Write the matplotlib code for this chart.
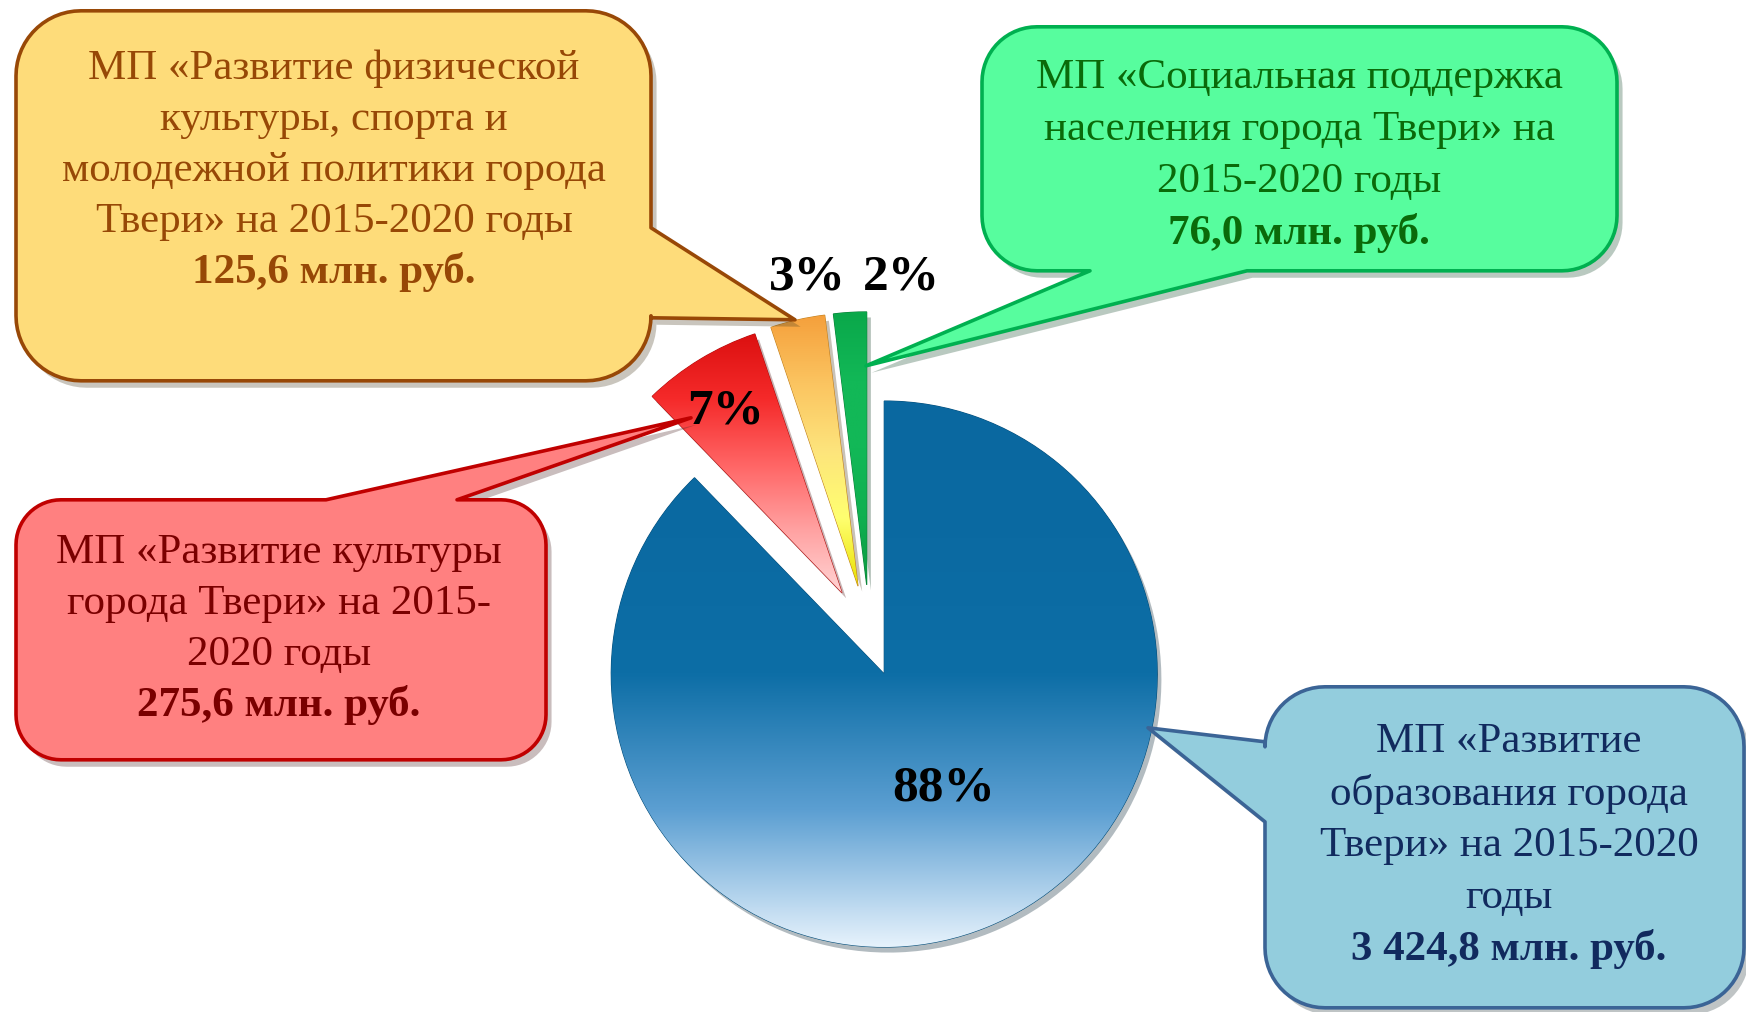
import numpy as np
import matplotlib.pyplot as plt
from matplotlib.path import Path
from matplotlib.patches import PathPatch
from matplotlib.colors import LinearSegmentedColormap
import matplotlib.patheffects as pe

W, H = 1746, 1012

# data: budgets of municipal programs, 2015-2020, mln rub
amounts = [3424.8, 275.6, 125.6, 76.0]
callout_lines = [
    ["МП «Развитие", "образования города", "Твери» на 2015-2020", "годы"],
    ["МП «Развитие культуры", "города Твери» на 2015-", "2020 годы"],
    ["МП «Развитие физической", "культуры, спорта и", "молодежной политики города",
     "Твери» на 2015-2020 годы"],
    ["МП «Социальная поддержка", "населения города Твери» на", "2015-2020 годы"],
]
slice_colors = ["#0b6aa2", "#f02020", "#f8b048", "#10b050"]
slice_edges = ["#07507c", "#b01010", "#c08020", "#0a8038"]
gradients = [
    ["#0a68a0", "#0b6aa2", "#0d6ea6", "#5c9fd2", "#e6f2fc"],
    ["#dc1010", "#f52a2a", "#ff6464", "#ffa0a0", "#ffd4d4"],
    ["#f5a03c", "#fbc460", "#fde47c", "#ffff70", "#e8e000"],
    ["#0aa84a", "#12b857", "#12b857", "#10b050", "#0a9a40"],
]
box_fill = ["#93cddd", "#ff8080", "#fedc7a", "#57fd9e"]
box_edge = ["#3b6496", "#c00000", "#984807", "#00b050"]
text_colors = ["#112a5e", "#7a0000", "#974806", "#0a6a0a"]

# layout in pixel coordinates (y down)
pie_center = (870, 639)
pie_radius = 273
explode = [38, 54, 54, 54]
# x0, y0, x1, y1, corner radius, pointer side, pointer base a, b, tip
boxes = [
    (1265, 687, 1744, 1008, 60, "left", 742, 822, (1148, 728)),
    (16, 500, 546, 760, 45, "top", 326, 457, (691, 418)),
    (16, 11, 651, 381, 65, "right", 228, 318, (795, 320)),
    (982, 27, 1617, 271, 55, "bottom", 1090, 1247, (866, 366)),
]
text_pos = [(1509, 742, 51.7), (279, 553, 50.7), (334, 69, 50.7), (1299, 78, 51.7)]
pct_pos = [(944, 788), (726, 411), (807, 277), (901, 277)]


def callout_path(x0, y0, x1, y1, r, side, a, b, tip):
    def arc(cx, cy, t0, t1):
        t = np.radians(np.linspace(t0, t1, 16))
        return list(zip(cx + r * np.cos(t), cy + r * np.sin(t)))

    v = arc(x0 + r, y0 + r, 180, 270)
    if side == "top":
        v += [(a, y0), tip, (b, y0)]
    v += arc(x1 - r, y0 + r, 270, 360)
    if side == "right":
        v += [(x1, a), tip, (x1, b)]
    v += arc(x1 - r, y1 - r, 0, 90)
    if side == "bottom":
        v += [(b, y1), tip, (a, y1)]
    v += arc(x0 + r, y1 - r, 90, 180)
    if side == "left":
        v += [(x0, b), tip, (x0, a)]
    v.append(v[0])
    v = [(x, H - y) for x, y in v]
    return Path(v, closed=True)


fig = plt.figure(figsize=(W / 100, (H + 0.4) / 100), dpi=100)
ax = fig.add_axes([0, 0, 1, 1])

wedges, _ = ax.pie(amounts, explode=explode, startangle=90, counterclock=False,
                   radius=pie_radius, center=(pie_center[0], H - pie_center[1]),
                   colors=slice_colors,
                   wedgeprops=dict(linewidth=0.8))
for w, ec, grad in zip(wedges, slice_edges, gradients):
    w.set_edgecolor(ec)
    w.set_zorder(1)
    w.set_path_effects([pe.SimplePatchShadow(offset=(3, -4), alpha=0.3), pe.Normal()])
    bb = w.get_path().get_extents()
    cmap = LinearSegmentedColormap.from_list("g", grad)
    img = ax.imshow(np.linspace(0, 1, 256).reshape(-1, 1), cmap=cmap, aspect="auto",
                    extent=(bb.x0, bb.x1, bb.y0, bb.y1), origin="upper",
                    interpolation="bilinear", zorder=2)
    img.set_clip_path(w)

total = sum(amounts)
for v, (px, py) in zip(amounts, pct_pos):
    ax.text(px, H - py, f"{round(100 * v / total)}%", ha="center", va="center",
            fontsize=37, fontweight="bold", family="Liberation Serif", color="black", zorder=6)

for i, spec in enumerate(boxes):
    patch = PathPatch(callout_path(*spec), facecolor=box_fill[i], edgecolor=box_edge[i],
                      linewidth=2.6, joinstyle="round", zorder=4)
    patch.set_path_effects([pe.SimplePatchShadow(offset=(4, -5), alpha=0.3), pe.Normal()])
    ax.add_patch(patch)

    cx, y, step = text_pos[i]
    amt = f"{amounts[i]:,.1f}".replace(",", " ").replace(".", ",") + " млн. руб."
    for line in callout_lines[i]:
        ax.text(cx, H - y, line, ha="center", va="center", fontsize=31,
                family="Liberation Serif", color=text_colors[i], zorder=5)
        y += step
    ax.text(cx, H - y, amt, ha="center", va="center", fontsize=31, fontweight="bold",
            family="Liberation Serif", color=text_colors[i], zorder=5)

ax.set_xlim(0, W)
ax.set_ylim(0, H)
ax.set_aspect("equal")
ax.axis("off")
fig.savefig("out.png", dpi=100, facecolor="white")
